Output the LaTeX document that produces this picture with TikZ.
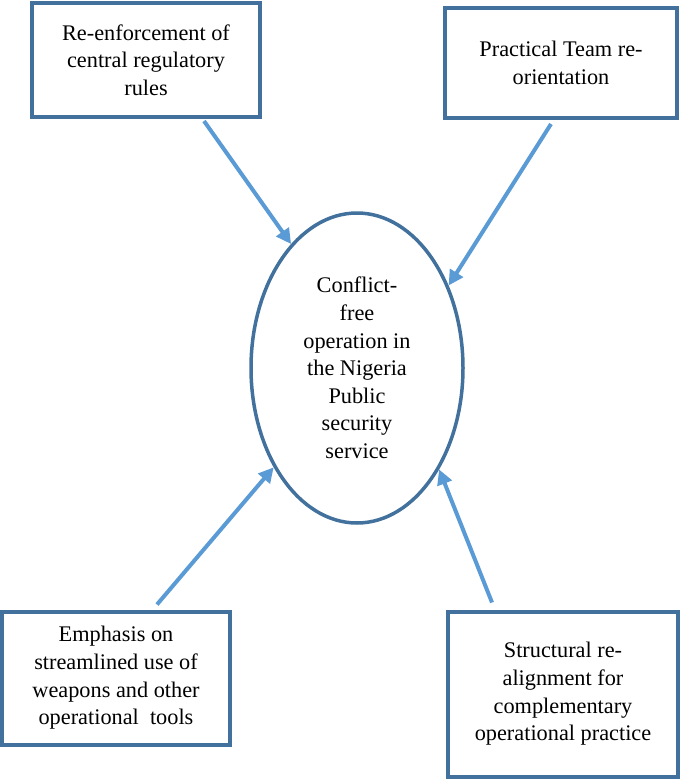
\documentclass[tikz,border=0pt]{standalone}
\usepackage{fontspec}
\setmainfont{Liberation Serif}
\usepackage{tikz}
\usetikzlibrary{arrows.meta,shapes.geometric}

\definecolor{boxblue}{RGB}{65,113,156}
\definecolor{arrowblue}{RGB}{91,155,213}

\begin{document}
\begin{tikzpicture}[x=1pt, y=-1pt,
		box/.style={draw=boxblue, line width=4pt, align=center, inner sep=0pt, font=\fontsize{22.3}{27.6}\selectfont},
		link/.style={draw=arrowblue, line width=4pt, -{Triangle[length=15pt,width=15pt]}}]
			\useasboundingbox (0,0) rectangle (685,779);

			\node[box, minimum width=228, minimum height=114] (rules) at (146,60) {Re-enforcement of\\central regulatory\\rules};
			\node[box, minimum width=232, minimum height=110] (team) at (561,63) {Practical Team re-\\orientation};
			\node[box, minimum width=228, minimum height=133] (weapons) at (116,678) {Emphasis on\\streamlined use of\\weapons and other\\operational\ \ tools};
			\node[box, minimum width=230, minimum height=165] (realign) at (563,694) {Structural re-\\alignment for\\complementary\\operational practice};

			\node[box, ellipse, line width=3.5pt, minimum width=212, minimum height=310] (conflict) at (357,368) {Conflict-\\free\\operation in\\the Nigeria\\Public\\security\\service};

			\draw[link] ([xshift=58pt, yshift=-2pt]rules.south) -- (conflict.118); % dall'alto a sinistra
			\draw[link] ([xshift=-10pt, yshift=-4pt]team.south) -- (conflict.42); % dall'alto a destra
			\draw[link] ([xshift=41pt, yshift=5pt]weapons.north) -- (conflict.230); % dal basso a sinistra
			\draw[link] ([xshift=-71pt, yshift=7pt]realign.north) -- (conflict.309); % dal basso a destra
		\end{tikzpicture}
\end{document}
